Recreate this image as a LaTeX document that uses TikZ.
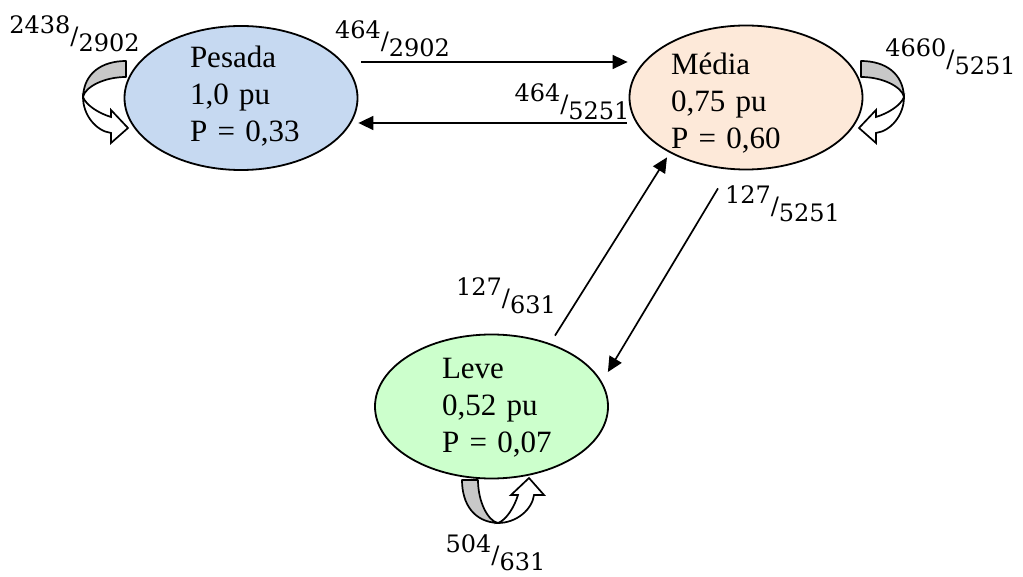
\documentclass[tikz,border=0pt]{standalone}
\usepackage{fontspec}
\setmainfont{Liberation Serif}
\newfontfamily\fracfont{DejaVu Serif}
\usetikzlibrary{shapes.geometric,arrows.meta}

\definecolor{stHeavy}{HTML}{C6D9F1}
\definecolor{stMid}{HTML}{FDE9D9}
\definecolor{stLight}{HTML}{CCFFCC}
\definecolor{loopBack}{HTML}{C8C8C8}

\newcommand{\skfrac}[2]{{\fracfont\fontsize{24}{24}\selectfont
  \raisebox{11pt}{#1}/\raisebox{-7pt}{#2}}}

\begin{document}
\begin{tikzpicture}[x=1pt, y=-1pt, font=\fontsize{31}{37}\selectfont,
  state/.style={ellipse, draw, line width=1.8pt, inner sep=0pt,
    minimum width=233pt, minimum height=144pt, align=left},
  flow/.style={line width=1.7pt, -{Triangle[length=15pt, width=14pt]}},
  frac/.style={inner sep=0pt},
  loopmark/.pic={
    \filldraw[fill=loopBack, line width=1.7pt, line join=round]
      (0,0) .. controls (-24,0) and (-42,12) .. (-43,36)
      .. controls (-41,26) and (-22,16) .. (0,16) -- cycle;
    \filldraw[fill=white, line width=1.7pt]
      (-43,36) .. controls (-43,54) and (-30,70) .. (-15,72)
      -- (-15,82) -- (2,67) -- (-15,49) -- (-15,56)
      .. controls (-28,52) and (-40,44) .. (-43,36) -- cycle;
  }]
\useasboundingbox (0,0) rectangle (1023,577);
% states
\node[state, fill=stHeavy, text width=102pt, text height=20pt, text depth=80pt]
  (pesada) at (241,98) {Pesada\\1,0~pu\\P~=~0,33};
\node[state, fill=stMid, text width=150pt, text height=25pt, text depth=70pt]
  (media) at (746,97.5) {Média\\0,75~pu\\P~=~0,60};
\node[state, fill=stLight, text width=99pt, text height=20pt, text depth=77pt]
  (leve) at (491.5,406.5) {Leve\\0,52~pu\\P~=~0,07};
% transitions
\draw[flow] ([shift={(3,-36)}]pesada.east) -- ([shift={(-1,-35.5)}]media.west);
\draw[flow] ([shift={(-2,25.5)}]media.west) -- ([shift={(0,25)}]pesada.east);
\draw[flow] ([shift={(63.5,2)}]leve.north) -- ([shift={(-79,-13)}]media.south);
\draw[flow] ([shift={(-28,18)}]media.south) -- ([shift={(-1,-34.5)}]leve.east);
% self loops
\pic at (126,61) {loopmark};
\pic[xscale=-1] at (861,61) {loopmark};
\pic[rotate=90] at (462,480) {loopmark};
% labels
\node[frac] (pp) at (74.5,34) {\skfrac{2438}{2902}};
\node[frac] (pm) at (392.5,39) {\skfrac{464}{2902}};
\node[frac] (mp) at (572,102) {\skfrac{464}{5251}};
\node[frac] (mm) at (950.5,57) {\skfrac{4660}{5251}};
\node[frac] (ml) at (782.5,204) {\skfrac{127}{5251}};
\node[frac] (lm) at (506,296) {\skfrac{127}{631}};
\node[frac] (ll) at (495.5,553) {\skfrac{504}{631}};
\end{tikzpicture}
\end{document}
